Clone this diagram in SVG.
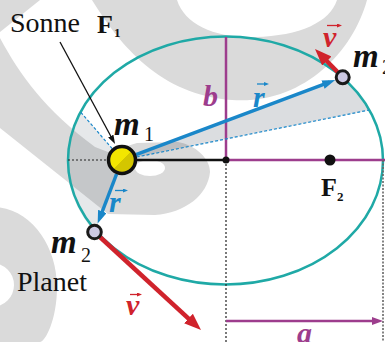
<svg xmlns="http://www.w3.org/2000/svg" width="385" height="342" viewBox="0 0 385 342">
<style>
.wm{fill:#dadada}
.sec{fill:#1c2a40;fill-opacity:0.11}
.orbit{fill:none;stroke:#1fa9a6;stroke-width:2.5}
.blue{stroke:#1a87c9;stroke-width:3.5;fill:none}
.red{stroke:#d0232c;stroke-width:4.5;fill:none}
.pur{stroke:#9d3d8d;stroke-width:2.5;fill:none}
.dash{stroke:#1a87c9;stroke-width:1.2;stroke-dasharray:3 2;fill:none}
.dot{stroke:#222;stroke-width:1.2;stroke-dasharray:2 2;fill:none}
.planet{fill:#cdc9e3;stroke:#1a1a1a;stroke-width:3}
.serif{font-family:"Liberation Serif","Times New Roman",serif}
.lab{font-family:"Liberation Serif","Times New Roman",serif;font-weight:bold;font-style:italic;font-size:30px}
.mm{font-family:"Liberation Serif","Times New Roman",serif;font-weight:bold;font-style:italic;font-size:33px;fill:#111}
.sub{font-family:"Liberation Serif","Times New Roman",serif;font-size:20px;fill:#111}
.fb{font-family:"Liberation Serif","Times New Roman",serif;font-weight:bold;font-size:26px;fill:#111}
.fs{font-family:"Liberation Serif","Times New Roman",serif;font-weight:bold;font-size:13px;fill:#111}
.vec{stroke-width:1.3;fill:none}
</style>
<defs>
<linearGradient id="sung" x1="0" y1="0" x2="1" y2="1">
<stop offset="0.5" stop-color="#f3e600"/><stop offset="0.5" stop-color="#d4c600"/>
</linearGradient>
<marker id="hb" markerUnits="userSpaceOnUse" markerWidth="13" markerHeight="9" refX="7" refY="4.5" orient="auto"><path d="M0,0 L13,4.5 L0,9 Z" fill="#1a87c9"/></marker>
<marker id="hr" markerUnits="userSpaceOnUse" markerWidth="17" markerHeight="13" refX="9" refY="6.5" orient="auto"><path d="M0,0 L17,6.5 L0,13 Z" fill="#d0232c"/></marker>
<marker id="hp" markerUnits="userSpaceOnUse" markerWidth="11" markerHeight="8" refX="2" refY="4" orient="auto"><path d="M0,0 L11,4 L0,8 Z" fill="#9d3d8d"/></marker>
<marker id="hk" markerUnits="userSpaceOnUse" markerWidth="9" markerHeight="6" refX="3" refY="3" orient="auto"><path d="M0,0 L9,3 L0,6 Z" fill="#111"/></marker>
<marker id="sb" markerUnits="userSpaceOnUse" markerWidth="5" markerHeight="4" refX="1" refY="2" orient="auto"><path d="M0,0 L5,2 L0,4 Z" fill="#1a87c9"/></marker>
<marker id="sr" markerUnits="userSpaceOnUse" markerWidth="5" markerHeight="4" refX="1" refY="2" orient="auto"><path d="M0,0 L5,2 L0,4 Z" fill="#d0232c"/></marker>
</defs>
<rect width="385" height="342" fill="#fff"/>
<g id="watermark">
<path class="wm" d="M0 0 L40 0 L0 32 Z"/>
<path class="wm" d="M0 38 C20 75 45 110 95 147 L108 152 L137 143 L178 142 C195 145 210 158 210 172 C208 195 185 213 155 215 L108 214 L0 128 Z"/>
<ellipse cx="150" cy="168" rx="15" ry="8" fill="#fff"/>
<path class="wm" fill-rule="evenodd" d="M92 0 C120 45 160 95 232 100 C300 105 352 55 367 0 Z M177 0 C185 25 215 38 255 37 C300 36 330 22 337 0 Z"/>
<path class="wm" fill-rule="evenodd" d="M-8 207 C30 207 57 245 57 287 C57 320 45 342 40 342 L0 342 L0 207 Z M-8 285 m-22 0 a22 22 0 1 0 44 0 a22 22 0 1 0 -44 0 Z"/>
</g>
<g id="sectors">
<path class="sec" d="M122 160 L80.6 112 A157.5 124 0 0 0 94.5 232 Z"/>
<path class="sec" style="fill-opacity:0.16" d="M122 160 L342.7 77.3 A157.5 124 0 0 1 369.3 110 Z"/>
</g>
<g id="orbit"><ellipse class="orbit" cx="225.5" cy="160.5" rx="157.5" ry="124"/></g>
<g id="connectors">
<line class="dot" x1="68" y1="160" x2="110" y2="160"/>
<line x1="130" y1="160" x2="226" y2="160" stroke="#111" stroke-width="2.5"/>
<line class="pur" x1="226" y1="160" x2="385" y2="160"/>
<line class="pur" x1="226" y1="37" x2="226" y2="160" stroke-width="2"/>
<line class="dot" x1="226" y1="160" x2="226" y2="342"/>
<line x1="383" y1="160" x2="383" y2="342" stroke="#666" stroke-width="1.6" stroke-dasharray="2 1.5"/>
<line class="pur" x1="226" y1="321" x2="374" y2="321" marker-end="url(#hp)"/>
<line class="dash" x1="122" y1="160" x2="80.6" y2="112"/>
<line class="dash" x1="122" y1="160" x2="369.3" y2="110"/>
<line x1="60" y1="42" x2="112.2" y2="138.7" stroke="#111" stroke-width="1.3" marker-end="url(#hk)"/>
<line class="blue" x1="136" y1="154.7" x2="329.6" y2="82.2" marker-end="url(#hb)"/>
<line class="blue" x1="116.6" y1="174" x2="99.8" y2="218" marker-end="url(#hb)"/>
<line class="red" x1="342.7" y1="77.3" x2="320.6" y2="54.7" marker-end="url(#hr)"/>
<line class="red" x1="94.5" y1="232" x2="195.1" y2="324.6" marker-end="url(#hr)"/>
</g>
<g id="center"><circle cx="226" cy="160" r="3.5" fill="#111"/></g>
<g id="F2"><circle cx="330" cy="160" r="5.5" fill="#111"/>
<text class="fb" x="321" y="196">F</text><text class="fs" x="337" y="201">2</text></g>
<g id="sun"><circle cx="122" cy="160" r="13.5" fill="url(#sung)" stroke="#111" stroke-width="3.5"/>
<text class="mm" x="114" y="135">m</text><text class="sub" x="144" y="141">1</text></g>
<g id="sonne-label"><text class="serif" x="10" y="32" font-size="28" fill="#111">Sonne</text>
<text class="fb" x="97" y="33">F</text><text class="fs" x="114" y="37">1</text></g>
<g id="planet1"><circle class="planet" cx="342.7" cy="77.3" r="6.5"/>
<text class="mm" x="353" y="67">m</text><text class="sub" x="382" y="74">2</text></g>
<g id="planet2"><circle class="planet" cx="94.5" cy="232" r="6.8"/>
<text class="mm" x="51" y="253">m</text><text class="sub" x="81" y="262">2</text>
<text class="serif" x="17" y="291" font-size="28" fill="#111">Planet</text></g>
<g id="labels">
<text class="lab" x="203" y="106" fill="#9d3d8d">b</text>
<text class="lab" x="297" y="343" fill="#9d3d8d">a</text>
<text class="lab" x="253" y="107" fill="#1a87c9">r</text>
<line class="vec" x1="257" y1="84" x2="265" y2="84" stroke="#1a87c9" marker-end="url(#sb)"/>
<text class="lab" x="109" y="212" fill="#1a87c9">r</text>
<line class="vec" x1="115" y1="190.5" x2="124" y2="190.5" stroke="#1a87c9" marker-end="url(#sb)"/>
<text class="lab" x="323" y="47" fill="#d0232c">v</text>
<line class="vec" x1="327" y1="25.5" x2="338" y2="25.5" stroke="#d0232c" marker-end="url(#sr)"/>
<text class="lab" x="126" y="315" fill="#d0232c">v</text>
<line class="vec" x1="130" y1="294.5" x2="138" y2="294.5" stroke="#d0232c" marker-end="url(#sr)"/>
</g>
</svg>
